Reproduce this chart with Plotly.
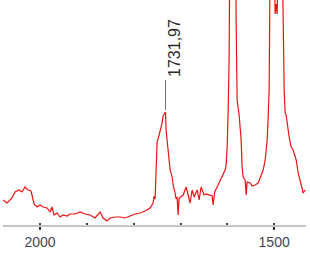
import plotly.graph_objects as go

# IR spectrum (wavenumber, cm-1) and absorbance (arbitrary units)
wavenumber = [2079.1, 2070.5, 2059.8, 2053.4, 2044.9, 2038.5, 2032.1, 2025.6, 2019.2, 2012.8,
              2006.4, 2000.0, 1993.6, 1985.0, 1978.6, 1974.4, 1970.1, 1963.7, 1957.3, 1950.9,
              1942.3, 1935.9, 1925.2, 1914.5, 1903.8, 1893.2, 1882.5, 1871.8, 1865.4, 1856.8,
              1850.4, 1839.7, 1829.1, 1818.4, 1807.7, 1797.0, 1786.3, 1775.6, 1764.9, 1758.5,
              1756.4, 1754.3, 1752.1, 1751.1, 1750.0, 1745.7, 1741.5, 1739.3, 1737.2, 1732.0,
              1730.8, 1728.6, 1726.5, 1722.2, 1717.9, 1715.8, 1711.5, 1709.4, 1707.3, 1705.1,
              1703.0, 1694.4, 1688.0, 1683.8, 1679.5, 1675.2, 1670.9, 1664.5, 1660.3, 1656.0,
              1649.6, 1645.3, 1638.9, 1632.5, 1630.3, 1627.1, 1621.8, 1617.5, 1613.2, 1608.9,
              1604.7, 1602.6, 1600.4, 1598.3, 1596.2, 1594.0, 1587.6, 1583.3, 1581.2, 1579.1,
              1574.8, 1570.5, 1568.4, 1566.2, 1562.0, 1559.8, 1557.7, 1551.3, 1547.0, 1540.6,
              1534.2, 1529.9, 1523.5, 1519.2, 1514.9, 1512.8, 1510.7, 1508.5, 1504.3, 1502.1,
              1497.9, 1495.7, 1493.6, 1489.3, 1482.9, 1480.8, 1478.6, 1476.5, 1474.4, 1468.0,
              1463.7, 1459.4, 1453.0, 1448.7, 1442.3, 1438.0, 1433.8]
absorbance = [0.130, 0.115, 0.140, 0.170, 0.180, 0.170, 0.195, 0.180, 0.175, 0.110,
              0.095, 0.105, 0.095, 0.090, 0.070, 0.095, 0.055, 0.065, 0.045, 0.055,
              0.050, 0.060, 0.060, 0.070, 0.060, 0.055, 0.040, 0.070, 0.040, 0.025,
              0.040, 0.045, 0.045, 0.040, 0.050, 0.060, 0.065, 0.075, 0.090, 0.115,
              0.150, 0.135, 0.280, 0.395, 0.420, 0.455, 0.490, 0.515, 0.550, 0.570,
              0.480, 0.420, 0.355, 0.280, 0.245, 0.205, 0.165, 0.135, 0.145, 0.055,
              0.140, 0.155, 0.195, 0.155, 0.115, 0.180, 0.145, 0.180, 0.130, 0.195,
              0.155, 0.160, 0.155, 0.150, 0.105, 0.170, 0.195, 0.215, 0.240, 0.255,
              0.280, 0.305, 0.395, 0.565, 0.830, 1.630, 3.130, 2.130, 1.030, 0.630,
              0.555, 0.430, 0.295, 0.245, 0.230, 0.155, 0.220, 0.215, 0.200, 0.205,
              0.215, 0.240, 0.280, 0.330, 0.430, 0.545, 0.680, 1.380, 2.130, 1.630,
              1.060, 1.110, 1.060, 1.630, 1.380, 0.930, 0.680, 0.565, 0.555, 0.445,
              0.395, 0.380, 0.330, 0.265, 0.195, 0.165, 0.180]

peak_label = "1731,97"
peak_wn = 1732.0
peak_abs = 0.570

tick_vals = [2000, 1500]
tick_text = ["2000", "1500"]

fig = go.Figure()
fig.add_trace(go.Scatter(x=wavenumber, y=absorbance, mode="lines",
                         line=dict(color="#ee1111", width=1.2), hoverinfo="skip"))

# peak marker line and label
fig.add_shape(type="line", xref="x", yref="y",
              x0=peak_wn, x1=peak_wn, y0=peak_abs + 0.01, y1=peak_abs + 0.16,
              line=dict(color="#707070", width=1))
fig.add_annotation(x=peak_wn - 18, y=peak_abs + 0.32, xref="x", yref="y",
                   text=peak_label, textangle=-90, showarrow=False,
                   font=dict(family="Liberation Sans, Arial", size=16, color="#2a2a2a"))

fig.update_layout(
    width=310, height=256,
    margin=dict(l=3, r=4, t=0, b=31),
    paper_bgcolor="white", plot_bgcolor="white",
    showlegend=False,
    xaxis=dict(range=[2079.1, 1432.0], tickvals=tick_vals, ticktext=tick_text,
               showgrid=False, zeroline=False, showline=True, linecolor="#c4c4c4", linewidth=2,
               ticks="outside", ticklen=3, tickwidth=1.5, tickcolor="#333333",
               minor=dict(dtick=100, tick0=2000, ticks="inside", ticklen=2, tickwidth=1.5,
                          tickcolor="#444444", showgrid=False),
               tickfont=dict(family="Liberation Sans, Arial", size=14, color="#3d4654")),
    yaxis=dict(range=[0.005, 1.13], visible=False, showgrid=False, zeroline=False),
)

fig.write_html("out.html", config={"displayModeBar": False},
               post_script="document.body.style.margin='0';document.body.style.overflow='hidden';")
